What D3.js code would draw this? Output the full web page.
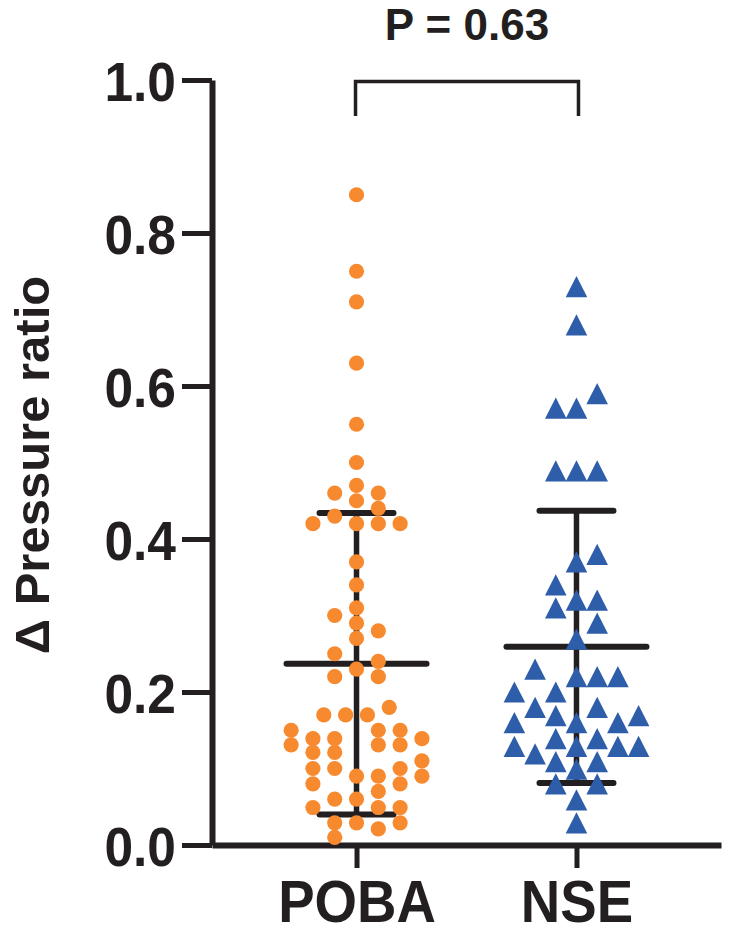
<!DOCTYPE html>
<html>
<head>
<meta charset="utf-8">
<script src="https://cdn.jsdelivr.net/npm/d3@7"></script>
<style>
  html, body { margin: 0; padding: 0; background: #fff; }
  svg { display: block; }
  text { font-family: "Liberation Sans", Arial, Helvetica, sans-serif; font-weight: bold; fill: #231f20; }
</style>
</head>
<body>
<svg id="chart" width="729" height="938"></svg>
<script>
// ---------------- data ----------------
const categories = ["POBA", "NSE"];
const yTickValues = [0, 0.2, 0.4, 0.6, 0.8, 1.0];
const yTitle = "Δ Pressure ratio";
const pLabel = "P = 0.63";

// POBA values and their swarm lane (half-step units)
const pobaValues = [0.85, 0.75, 0.71, 0.63, 0.55, 0.50, 0.47, 0.46, 0.46, 0.45, 0.44, 0.43, 0.42, 0.42, 0.42, 0.42,
  0.37, 0.34, 0.31, 0.30, 0.29, 0.28, 0.27, 0.25, 0.24, 0.23, 0.22, 0.22,
  0.18, 0.17, 0.17, 0.17, 0.15, 0.15, 0.15, 0.139, 0.139, 0.139, 0.131, 0.131, 0.131, 0.121, 0.121, 0.11,
  0.10, 0.10, 0.10, 0.09, 0.09, 0.09, 0.08, 0.08, 0.07, 0.06, 0.06, 0.049, 0.049, 0.049, 0.029, 0.029, 0.029, 0.021, 0.01];
const pobaLanes = [0, 0, 0, 0, 0, 0, 0, -2, 2, 0, 2, -2, -4, 0, 2, 4,
  0, 0, 0, -2, 0, 2, 0, -2, 2, 0, -2, 2,
  3, -3, -1, 1, -6, 2, 4, -4, -2, 6, -6, 2, 4, -4, -2, 6,
  -4, -2, 4, 0, 2, 6, -4, 4, 2, -2, 0, -4, 2, 4, -2, 0, 4, 2, -2];

// NSE values and their swarm lane (half-step units)
const nseValues = [0.73, 0.68, 0.59, 0.571, 0.571, 0.489, 0.489, 0.489,
  0.38, 0.37, 0.34, 0.32, 0.32, 0.31, 0.29, 0.269,
  0.23, 0.22, 0.22, 0.22, 0.20, 0.20, 0.18, 0.18, 0.169, 0.169, 0.16, 0.16, 0.16,
  0.139, 0.139, 0.129, 0.129, 0.129, 0.129, 0.119, 0.109, 0.109, 0.099, 0.08, 0.08, 0.059, 0.029];
const nseLanes = [0, 0, 2, -2, 0, -2, 0, 2,
  2, 0, -2, 0, 2, -2, 2, 0,
  -4, 0, 2, 4, -6, -2, -4, 2, -2, 6, -6, 0, 4,
  -2, 2, -6, 0, 4, 6, -4, -2, 2, 0, -2, 2, 0, 0];

const groupMeans = [0.237, 0.259];
const groupSDs = [0.197, 0.178];

// ---------------- layout ----------------
const svg = d3.select("#chart");
const ink = "#231f20";
const orange = "#f7892f";
const blue = "#2e5daa";

const y = d3.scaleLinear().domain([0, 1]).range([845, 80]);
const x = d3.scalePoint().domain(categories).range([212, 721]).padding(0.657);
const laneP = d3.scaleLinear().domain([-1, 1]).range([-10.9, 10.9]);
const laneN = d3.scaleLinear().domain([-1, 1]).range([-10.35, 10.35]);

svg.append("rect").attr("width", 729).attr("height", 938).attr("fill", "#fff");

// y axis
const yAxis = svg.append("g")
  .attr("transform", "translate(212,0)")
  .call(d3.axisLeft(y).tickValues(yTickValues).tickFormat(d3.format(".1f"))
    .tickSizeInner(30).tickSizeOuter(0).tickPadding(7));
yAxis.select(".domain").attr("stroke", ink).attr("stroke-width", 6);
yAxis.selectAll(".tick line").attr("stroke", ink).attr("stroke-width", 5);
yAxis.selectAll(".tick text")
  .attr("font-size", 56).attr("fill", ink)
  .attr("x", -36 / 0.92).attr("dy", "0.36em")
  .attr("transform", "scale(0.92,1)");

// x axis
const xAxis = svg.append("g")
  .attr("transform", "translate(0,845)")
  .call(d3.axisBottom(x).tickSizeInner(23).tickSizeOuter(0).tickPadding(11));
xAxis.select(".domain").attr("stroke", ink).attr("stroke-width", 6);
xAxis.selectAll(".tick line").attr("stroke", ink).attr("stroke-width", 5);
xAxis.selectAll(".tick text")
  .attr("font-size", 60).attr("fill", ink)
  .attr("transform", "scale(0.91,1)");

// y title
svg.append("text")
  .attr("transform", "translate(49,465) rotate(-90)")
  .attr("text-anchor", "middle")
  .attr("font-size", 49)
  .text(yTitle);

// error bars (mean ± SD), drawn under points
categories.forEach((c, i) => {
  const cx = x(c);
  const g = svg.append("g").attr("stroke", ink).attr("stroke-linecap", "round");
  g.append("line").attr("x1", cx).attr("x2", cx)
    .attr("y1", y(groupMeans[i] + groupSDs[i])).attr("y2", y(groupMeans[i] - groupSDs[i]))
    .attr("stroke-width", 5.5);
  [groupMeans[i] + groupSDs[i], groupMeans[i] - groupSDs[i]].forEach(v => {
    g.append("line").attr("x1", cx - 37).attr("x2", cx + 37)
      .attr("y1", y(v)).attr("y2", y(v)).attr("stroke-width", 6);
  });
  g.append("line").attr("x1", cx - 70).attr("x2", cx + 70)
    .attr("y1", y(groupMeans[i])).attr("y2", y(groupMeans[i])).attr("stroke-width", 6);
});

// POBA dots
svg.append("g").selectAll("circle")
  .data(pobaValues.map((v, i) => ({ v, lane: pobaLanes[i] })))
  .join("circle")
  .attr("cx", d => x("POBA") + laneP(d.lane))
  .attr("cy", d => y(d.v))
  .attr("r", 7.6)
  .attr("fill", orange);

// NSE triangles
svg.append("g").selectAll("path")
  .data(nseValues.map((v, i) => ({ v, lane: nseLanes[i] })))
  .join("path")
  .attr("d", "M0,-10.6L10.8,10.6L-10.8,10.6Z")
  .attr("transform", d => `translate(${x("NSE") + laneN(d.lane)},${y(d.v)})`)
  .attr("fill", blue);

// significance bracket
const bx1 = x("POBA") - 1, bx2 = x("NSE") + 2;
const bTop = y(1) + 1.5, bBot = y(0.953);
svg.append("path")
  .attr("d", `M${bx1},${bBot}V${bTop}H${bx2}V${bBot}`)
  .attr("fill", "none").attr("stroke", ink).attr("stroke-width", 3.5);
svg.append("text")
  .attr("x", (bx1 + bx2) / 2).attr("y", 40)
  .attr("text-anchor", "middle")
  .attr("font-size", 44)
  .text(pLabel);
</script>
</body>
</html>
